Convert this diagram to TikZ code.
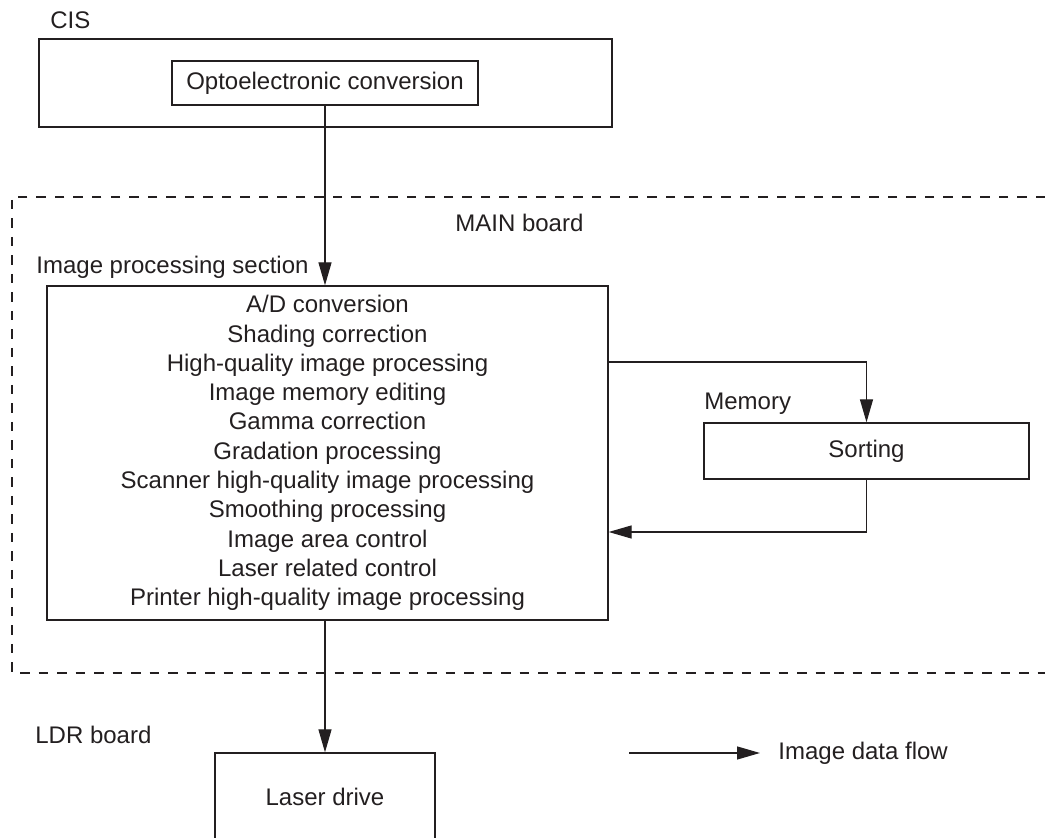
\documentclass[tikz,border=0pt]{standalone}
\usepackage{fontspec}
\setmainfont{Liberation Sans}
\usetikzlibrary{arrows.meta}
\definecolor{ink}{RGB}{35,31,32}
\begin{document}
\begin{tikzpicture}[x=0.5pt,y=-0.5pt,>={Triangle[length=11.5pt,width=6.5pt]},font=\fontsize{12}{14.65}\selectfont,
	box/.style={draw=ink,text=ink,line width=0.65pt,inner sep=0pt},
	lbl/.style={anchor=west,inner sep=0pt,text=ink},
	flow/.style={draw=ink,line width=0.65pt,->}]
				\useasboundingbox (0,0) rectangle (1045,838);
				\draw[ink,line width=0.6pt,dash pattern=on 4.75pt off 4.5pt] (1045,197)-|(12,673)--(1045,673);
				\node[lbl] (cislbl) at (50,20) {CIS};
				\node[box,minimum width=286.5pt,minimum height=44pt] (cis) at (325.5,83) {};
				\node[box,minimum width=153pt,minimum height=22pt] (opt) at (325,83) {Optoelectronic conversion};
				\node[lbl] (mainlbl) at (455,223) {MAIN board};
				\node[lbl] (iplbl) at (36,267) {Image processing section};
				\node[box,minimum width=280.5pt,minimum height=167pt,align=center] (ip) at (327.5,453) {A/D conversion\\Shading correction\\High-quality image processing\\Image memory editing\\Gamma correction\\Gradation processing\\Scanner high-quality image processing\\Smoothing processing\\Image area control\\Laser related control\\Printer high-quality image processing};
				\node[lbl] (memlbl) at (704,404) {Memory};
				\node[box,minimum width=162.5pt,minimum height=28pt] (sort) at (866.5,451) {Sorting};
				\node[lbl] (ldrlbl) at (35,735) {LDR board};
				\node[box,minimum width=110pt,minimum height=44pt] (lsr) at (325,797) {Laser drive};
				\node[lbl] (lgt) at (778,753) {Image data flow};
				\coordinate (lgs) at (629,753);
				\draw[flow] (opt.south)--(opt.south|-ip.north);
				\draw[flow] ([yshift=45.5pt]ip.east)-|(sort.north);
				\draw[flow] (sort.south)|-([yshift=-39.5pt]ip.east);
				\draw[flow] (lsr.north|-ip.south)--(lsr.north);
				\draw[flow] (lgs)--([xshift=-9pt]lgt.west);
			\end{tikzpicture}
\end{document}
